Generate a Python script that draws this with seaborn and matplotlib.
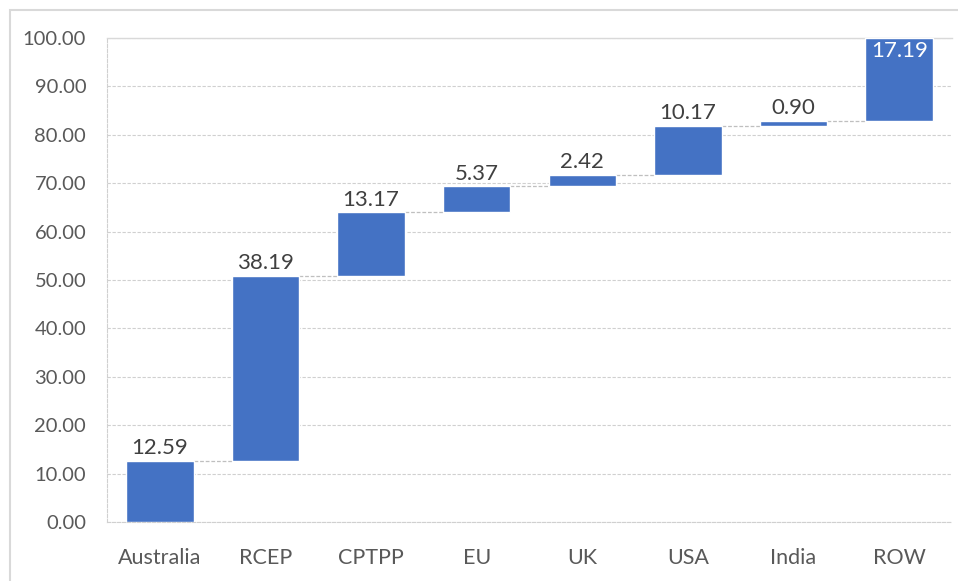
import numpy as np
import pandas as pd
import matplotlib
matplotlib.use("Agg")
import matplotlib.pyplot as plt
import seaborn as sns
from matplotlib.patches import Rectangle

categories = ["Australia", "RCEP", "CPTPP", "EU", "UK", "USA", "India", "ROW"]
values = [12.59, 38.19, 13.17, 5.37, 2.42, 10.17, 0.90, 17.19]
label_texts = ["12.59", "38.19", "13.17", "5.37", "2.42", "10.17", "0.90", "17.19"]

tops = np.cumsum(values)
starts = tops - np.array(values)

df = pd.DataFrame({"partner": categories, "value": values, "start": starts})

sns.set_style("white")
plt.rcParams["font.family"] = ["Lato", "DejaVu Sans"]

fig = plt.figure(figsize=(9.58, 5.81), dpi=100)
ax = fig.add_axes([107 / 958, 1 - 522 / 581, 845 / 958, 484 / 581])

bar_w = 0.64
sns.barplot(data=df, x="partner", y="value", bottom=df["start"].values,
            color="#4472C4", saturation=1, width=bar_w, ax=ax, zorder=3)

# connectors between bars
for i in range(len(categories) - 1):
    ax.plot([i + bar_w / 2, i + 1 - bar_w / 2], [tops[i], tops[i]],
            color="#bfbfbf", lw=0.9, ls=(0, (3, 1.5)), zorder=2)

# value labels
for i, txt in enumerate(label_texts):
    if i == len(categories) - 1:
        ax.text(i, tops[i] - 0.6, txt, ha="center", va="top",
                color="white", fontsize=16)
    else:
        ax.text(i, tops[i] + 0.6, txt, ha="center", va="bottom",
                color="#404040", fontsize=16)

ax.set_xlim(-0.5, len(categories) - 0.5)
ax.set_ylim(0, 100)
ax.set_yticks(np.arange(0, 101, 10))
ax.set_yticklabels([f"{v:.2f}" for v in np.arange(0, 101, 10)])
ax.set_xlabel("")
ax.set_ylabel("")
ax.tick_params(axis="x", length=0, labelsize=15.5, colors="#595959", pad=19)
ax.tick_params(axis="y", length=0, labelsize=14.5, colors="#595959", pad=15)

ax.grid(axis="y", color="#d0d0d0", lw=0.8, ls=(0, (3, 1.5)), zorder=0)
ax.set_axisbelow(True)
ax.spines["right"].set_visible(False)
ax.spines["top"].set_color("#d9d9d9")
ax.spines["top"].set_linewidth(1)
for side in ["left", "bottom"]:
    ax.spines[side].set_color("#d0d0d0")
    ax.spines[side].set_linestyle((0, (3, 1.5)))
    ax.spines[side].set_linewidth(0.8)

# chart area border
fig.patches.append(Rectangle((10 / 958, -0.1), 1.2, 1.1 - 10 / 581,
                             transform=fig.transFigure, fill=False,
                             edgecolor="#d9d9d9", lw=1.5))

fig.savefig("out.png", dpi=100)
